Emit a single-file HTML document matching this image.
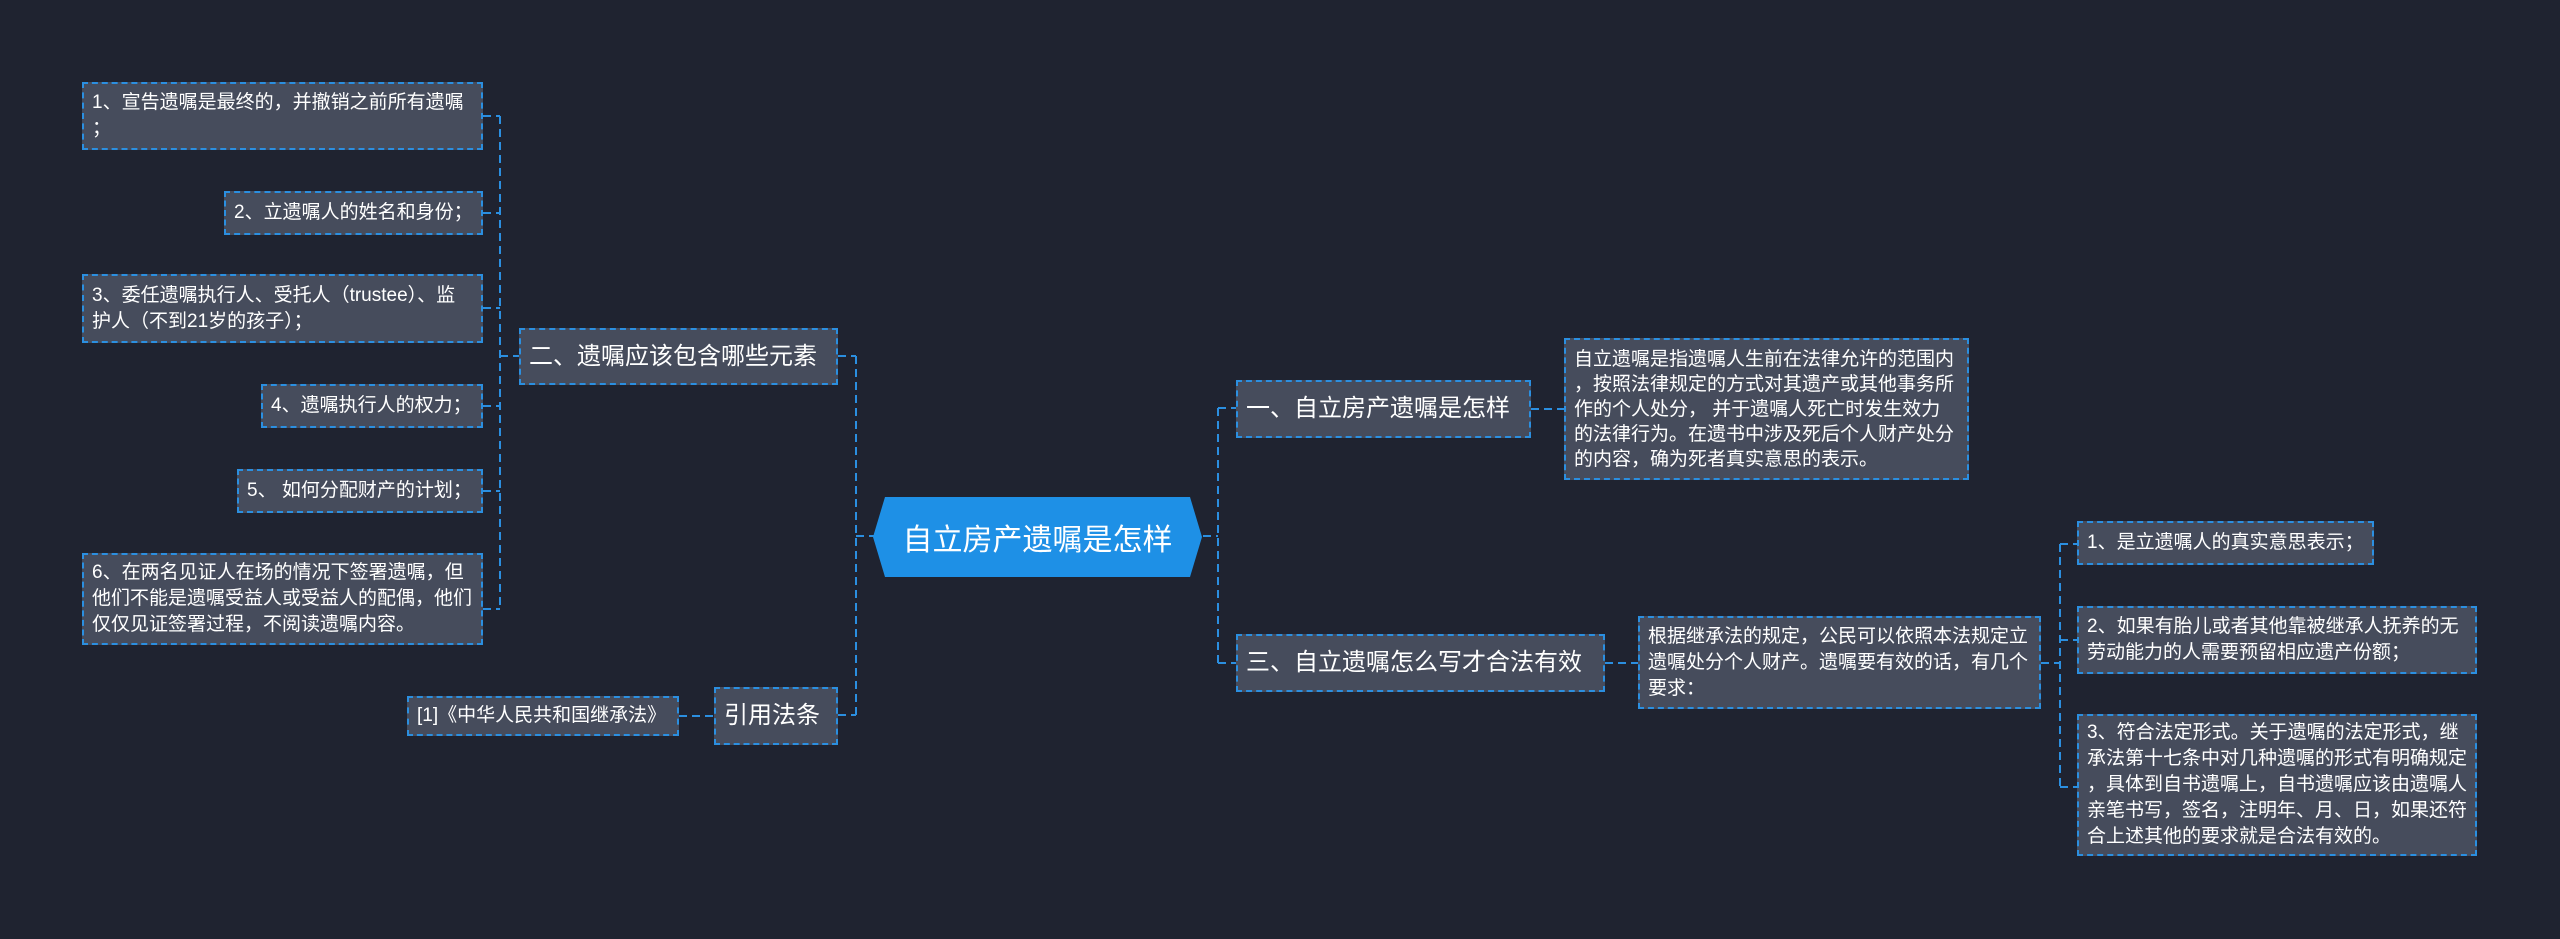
<!DOCTYPE html>
<html><head><meta charset="utf-8"><style>
body{margin:0;width:2560px;height:939px;background:#1f2330;position:relative;overflow:hidden;font-family:"Liberation Sans","Noto Sans CJK SC",sans-serif;}
.n{position:absolute;box-sizing:border-box;background:#464c5c;border:2px dashed #2b8fe0;color:#fff;font-size:19px;line-height:26px;padding:6px 8px;display:flex;align-items:center;word-break:break-all;}
.b{font-size:24px;line-height:30px;padding:0 8px;white-space:nowrap;}
svg{position:absolute;left:0;top:0;}
</style></head><body>
<svg width="2560" height="939"><g stroke="#2b8fe0" stroke-width="2" stroke-dasharray="8,5" fill="none">
<path d="M500 116V609M483 116H500M483 213H500M483 308H500M483 406H500M483 491H500M483 609H500M500 356H519"/>
<path d="M856 356V715M838 356H856M838 715H856M856 536H874M679 716H714"/>
<path d="M1218 408V663M1203 536H1218M1218 408H1236M1218 663H1236M1531 409H1564M1605 663H1638"/>
<path d="M2060 544V787M2041 663H2060M2060 544H2077M2060 640H2077M2060 787H2077"/>
</g></svg>
<div class="n" style="left:82px;top:82px;width:401px;height:68px;align-items:flex-start">1、宣告遗嘱是最终的，并撤销之前所有遗嘱<br>；</div>
<div class="n" style="left:224px;top:191px;width:259px;height:44px">2、立遗嘱人的姓名和身份；</div>
<div class="n" style="left:82px;top:274px;width:401px;height:69px">3、委任遗嘱执行人、受托人（trustee）、监<br>护人（不到21岁的孩子）；</div>
<div class="n" style="left:261px;top:384px;width:222px;height:44px">4、遗嘱执行人的权力；</div>
<div class="n" style="left:237px;top:469px;width:246px;height:44px">5、 如何分配财产的计划；</div>
<div class="n" style="left:82px;top:553px;width:401px;height:92px">6、在两名见证人在场的情况下签署遗嘱，但<br>他们不能是遗嘱受益人或受益人的配偶，他们<br>仅仅见证签署过程，不阅读遗嘱内容。</div>
<div class="n b" style="left:519px;top:328px;width:319px;height:57px">二、遗嘱应该包含哪些元素</div>
<div class="n b" style="left:714px;top:687px;width:124px;height:58px">引用法条</div>
<div class="n" style="left:407px;top:696px;width:272px;height:40px">[1]《中华人民共和国继承法》</div>
<svg width="2560" height="939"><polygon points="885,497 1190,497 1202,537 1190,577 885,577 873,537" fill="#1e90e6"/></svg>
<div style="position:absolute;left:873px;top:497px;width:329px;height:80px;display:flex;align-items:center;justify-content:center;color:#fff;font-size:30px">自立房产遗嘱是怎样</div>
<div class="n b" style="left:1236px;top:380px;width:295px;height:58px">一、自立房产遗嘱是怎样</div>
<div class="n" style="left:1564px;top:338px;width:405px;height:142px;line-height:25px">自立遗嘱是指遗嘱人生前在法律允许的范围内<br>，按照法律规定的方式对其遗产或其他事务所<br>作的个人处分， 并于遗嘱人死亡时发生效力<br>的法律行为。在遗书中涉及死后个人财产处分<br>的内容，确为死者真实意思的表示。</div>
<div class="n b" style="left:1236px;top:634px;width:369px;height:58px">三、自立遗嘱怎么写才合法有效</div>
<div class="n" style="left:1638px;top:616px;width:403px;height:93px">根据继承法的规定，公民可以依照本法规定立<br>遗嘱处分个人财产。遗嘱要有效的话，有几个<br>要求：</div>
<div class="n" style="left:2077px;top:521px;width:297px;height:44px">1、是立遗嘱人的真实意思表示；</div>
<div class="n" style="left:2077px;top:606px;width:400px;height:68px">2、如果有胎儿或者其他靠被继承人抚养的无<br>劳动能力的人需要预留相应遗产份额；</div>
<div class="n" style="left:2077px;top:714px;width:400px;height:142px">3、符合法定形式。关于遗嘱的法定形式，继<br>承法第十七条中对几种遗嘱的形式有明确规定<br>，具体到自书遗嘱上，自书遗嘱应该由遗嘱人<br>亲笔书写，签名，注明年、月、日，如果还符<br>合上述其他的要求就是合法有效的。</div>
</body></html>
